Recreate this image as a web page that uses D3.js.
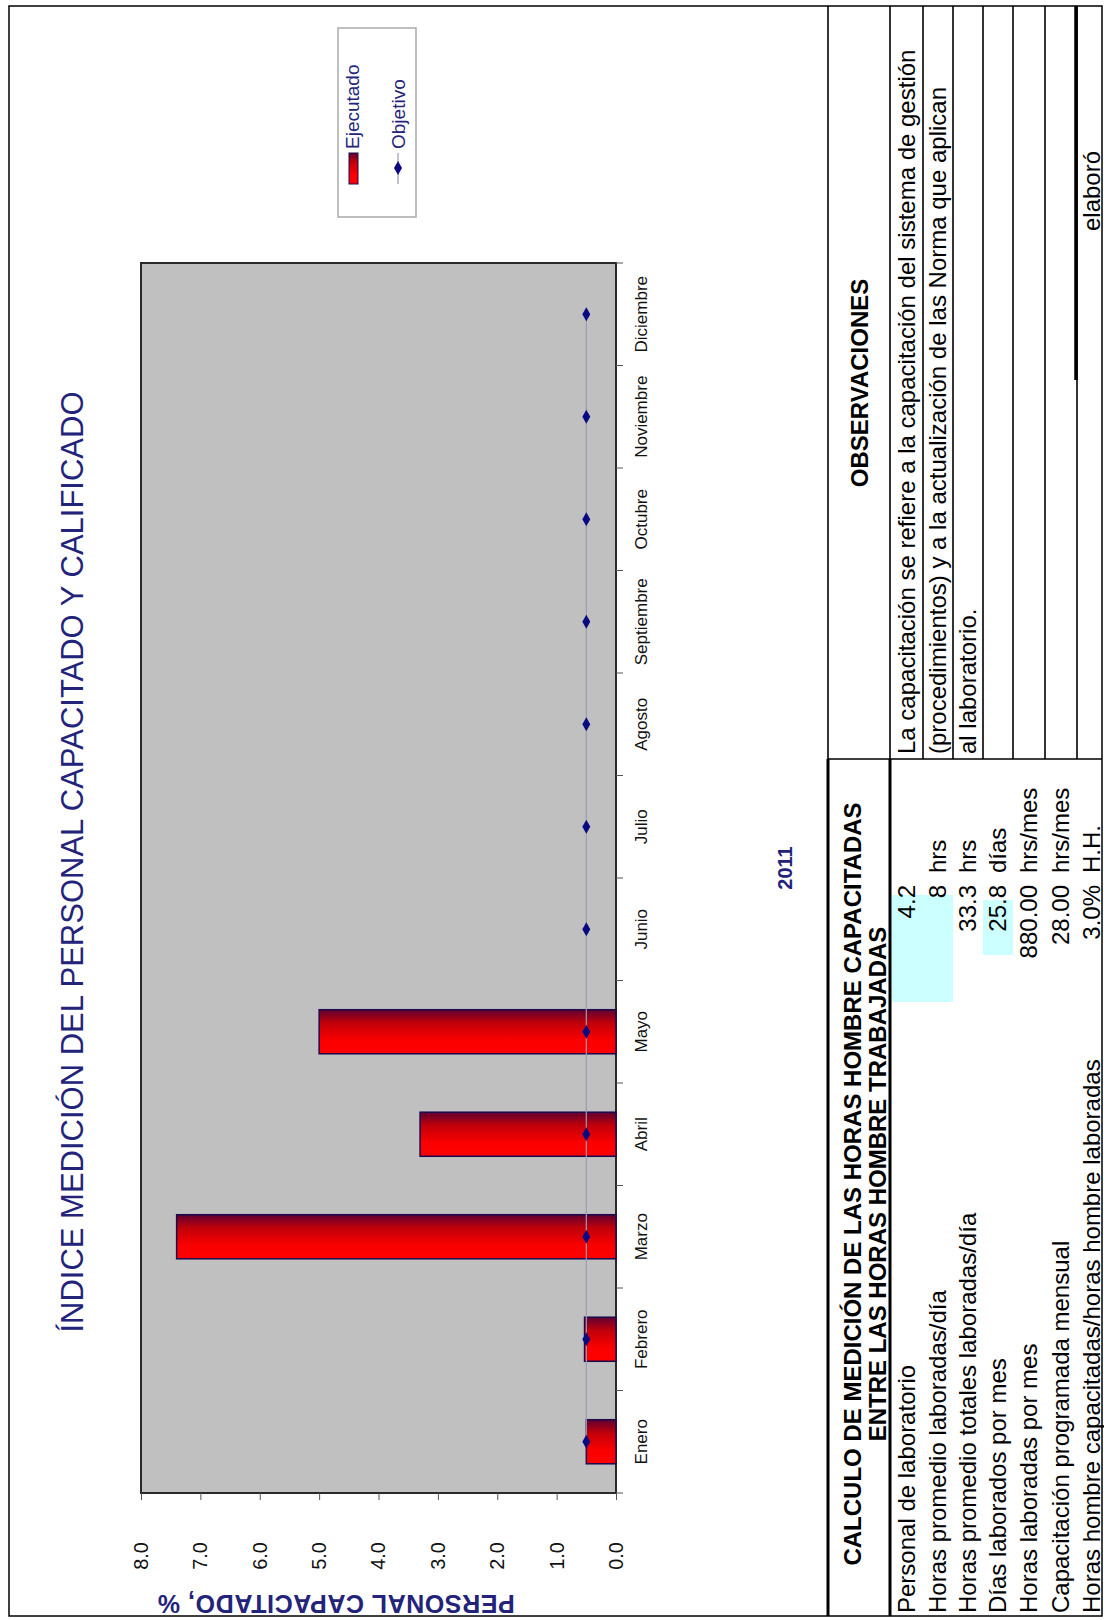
<!DOCTYPE html>
<html>
<head>
<meta charset="utf-8">
<script src="https://cdn.jsdelivr.net/npm/d3@7"></script>
<style>
  body { margin: 0; background: #fff; }
  text { font-family: "Liberation Sans", Arial, sans-serif; }
</style>
</head>
<body>
<script>
// chart data
const months = ['Enero', 'Febrero', 'Marzo', 'Abril', 'Mayo', 'Junio', 'Julio', 'Agosto', 'Septiembre', 'Octubre', 'Noviembre', 'Diciembre'];
const ejecutado = [0.5, 0.53, 7.4, 3.3, 5.0, 0, 0, 0, 0, 0, 0, 0];
const objetivo = [0.5, 0.5, 0.5, 0.5, 0.5, 0.5, 0.5, 0.5, 0.5, 0.5, 0.5, 0.5];
const valueTicks = [0, 1, 2, 3, 4, 5, 6, 7, 8];

// table data
const calcLabels = ['Personal de laboratorio', 'Horas promedio laboradas/día', 'Horas promedio totales laboradas/día', 'Días laborados por mes', 'Horas laboradas por mes', 'Capacitación programada mensual', 'Horas hombre capacitadas/horas hombre laboradas'];
const calcValues = ['4.2', '8', '33.3', '25.8', '880.00', '28.00', '3.0%'];
const calcUnits = ['', 'hrs', 'hrs', 'días', 'hrs/mes', 'hrs/mes', 'H.H.'];
const obsLines = ['La capacitación se refiere a la capacitación del sistema de gestión', '(procedimientos) y a la actualización de las Norma que aplican', 'al laboratorio.'];

const W = 1104, H = 1620;
const navy = '#23237a';

const svg = d3.select('body').append('svg')
    .attr('width', W)
    .attr('height', H);

svg.append('rect').attr('width', W).attr('height', H).attr('fill', '#fff');

const defs = svg.append('defs');
const grad = defs.append('linearGradient')
    .attr('id', 'barGrad')
    .attr('x1', 0).attr('y1', 0).attr('x2', 1).attr('y2', 0);
grad.append('stop').attr('offset', '0%').attr('stop-color', '#ff0000');
grad.append('stop').attr('offset', '30%').attr('stop-color', '#fb0000');
grad.append('stop').attr('offset', '70%').attr('stop-color', '#c0000a');
grad.append('stop').attr('offset', '100%').attr('stop-color', '#5e0030');

// the whole sheet is printed turned a quarter turn, so draw it landscape and rotate
const g = svg.append('g').attr('transform', `translate(0,${H}) rotate(-90)`);

// outer frame
g.append('rect')
    .attr('x', 4).attr('y', 9)
    .attr('width', 1610).attr('height', 1093)
    .attr('fill', 'none').attr('stroke', '#000').attr('stroke-width', 1.5);

// scales
const plot = {left: 127, right: 1357, top: 141, bottom: 616};
const x = d3.scaleBand()
    .domain(months)
    .range([plot.left, plot.right])
    .paddingInner(0.57)
    .paddingOuter(0.285);
const y = d3.scaleLinear()
    .domain([0, 8])
    .range([plot.bottom, plot.top]);

// plot area
g.append('rect')
    .attr('x', plot.left).attr('y', plot.top)
    .attr('width', plot.right - plot.left).attr('height', plot.bottom - plot.top)
    .attr('fill', '#c0c0c0').attr('stroke', '#2a2a2a').attr('stroke-width', 2);

// bars
g.append('g')
    .selectAll('rect')
    .data(months.map((m, i) => ({m: m, v: ejecutado[i]})).filter(d => d.v > 0))
    .join('rect')
    .attr('x', d => x(d.m))
    .attr('y', d => y(d.v))
    .attr('width', x.bandwidth())
    .attr('height', d => y(0) - y(d.v))
    .attr('fill', 'url(#barGrad)')
    .attr('stroke', '#1c0a4e')
    .attr('stroke-width', 1.5);

// objective line + markers
const objData = months.map((m, i) => ({m: m, v: objetivo[i]}));
g.append('path')
    .datum(objData)
    .attr('fill', 'none')
    .attr('stroke', '#9c9cb4')
    .attr('stroke-width', 1.2)
    .attr('d', d3.line().x(d => x(d.m) + x.bandwidth() / 2).y(d => y(d.v)));

g.append('g')
    .selectAll('path')
    .data(objData)
    .join('path')
    .attr('d', d3.symbol(d3.symbolDiamond, 55))
    .attr('transform', d => `translate(${x(d.m) + x.bandwidth() / 2},${y(d.v)}) rotate(90)`)
    .attr('fill', '#0a0a80');

// value axis
const yAx = g.append('g')
    .attr('transform', `translate(${plot.left},0)`)
    .call(d3.axisLeft(y).tickValues(valueTicks).tickSize(7).tickPadding(42).tickFormat(d3.format('.1f')));
yAx.select('.domain').remove();
yAx.selectAll('line').attr('stroke', '#555');
yAx.selectAll('text').attr('font-size', 20).attr('fill', '#111');

// category axis
const xAx = g.append('g')
    .attr('transform', `translate(0,${plot.bottom})`)
    .call(d3.axisBottom(x).tickSize(0).tickPadding(19));
xAx.select('.domain').remove();
xAx.selectAll('text').attr('font-size', 17).attr('fill', '#111');

// category boundary ticks
g.append('g')
    .selectAll('line')
    .data(d3.range(months.length + 1))
    .join('line')
    .attr('x1', i => plot.left + i * x.step())
    .attr('x2', i => plot.left + i * x.step())
    .attr('y1', plot.bottom)
    .attr('y2', plot.bottom + 7)
    .attr('stroke', '#555');

// titles
g.append('text')
    .attr('x', 758).attr('y', 83)
    .attr('text-anchor', 'middle')
    .attr('font-size', 31)
    .attr('fill', navy)
    .text('ÍNDICE MEDICIÓN DEL PERSONAL CAPACITADO Y CALIFICADO');

g.append('text')
    .attr('transform', 'translate(25,336) rotate(-90)')
    .attr('text-anchor', 'middle')
    .attr('font-size', 25)
    .attr('letter-spacing', 0.6)
    .attr('font-weight', 'bold')
    .attr('fill', navy)
    .text('PERSONAL CAPACITADO, %');

g.append('text')
    .attr('x', 752).attr('y', 792)
    .attr('text-anchor', 'middle')
    .attr('font-size', 20)
    .attr('font-weight', 'bold')
    .attr('fill', navy)
    .text('2011');

// legend
const lg = g.append('g');
lg.append('rect')
    .attr('x', 1403).attr('y', 338)
    .attr('width', 189).attr('height', 78)
    .attr('fill', '#fff').attr('stroke', '#aaa').attr('stroke-width', 1.5);
lg.append('rect')
    .attr('x', 1436).attr('y', 349)
    .attr('width', 31).attr('height', 9)
    .attr('fill', 'url(#barGrad)').attr('stroke', '#1c0a4e');
lg.append('text')
    .attr('x', 1471).attr('y', 359)
    .attr('font-size', 19).attr('fill', navy)
    .text('Ejecutado');
lg.append('line')
    .attr('x1', 1436).attr('x2', 1467).attr('y1', 398).attr('y2', 398)
    .attr('stroke', '#9c9cb4').attr('stroke-width', 1.2);
lg.append('path')
    .attr('d', d3.symbol(d3.symbolDiamond, 55))
    .attr('transform', 'translate(1452,398) rotate(90)')
    .attr('fill', '#0a0a80');
lg.append('text')
    .attr('x', 1471).attr('y', 405)
    .attr('font-size', 19).attr('fill', navy)
    .text('Objetivo');

// ---- tables ----
const rowLines = [828, 890, 923, 953, 983, 1013, 1045, 1077];
const rowMid = [907, 938, 968, 998, 1029, 1061, 1092];
const split = 861;

// observations grid
g.append('g')
    .selectAll('line')
    .data(rowLines)
    .join('line')
    .attr('x1', split).attr('x2', 1614)
    .attr('y1', d => d).attr('y2', d => d)
    .attr('stroke', '#000').attr('stroke-width', 1.6);
g.append('line')
    .attr('x1', split).attr('x2', split).attr('y1', 828).attr('y2', 1102)
    .attr('stroke', '#000').attr('stroke-width', 1.6);
// signature line
g.append('line')
    .attr('x1', 1240).attr('x2', 1614).attr('y1', 1076).attr('y2', 1076)
    .attr('stroke', '#000').attr('stroke-width', 3.5);

g.append('text')
    .attr('x', 1237).attr('y', 868)
    .attr('text-anchor', 'middle')
    .attr('font-size', 24).attr('font-weight', 'bold')
    .text('OBSERVACIONES');

g.append('g')
    .selectAll('text')
    .data(obsLines)
    .join('text')
    .attr('x', 866)
    .attr('y', (d, i) => rowMid[i] + 8)
    .attr('font-size', 24)
    .text(d => d);

g.append('text')
    .attr('x', 1429).attr('y', 1100)
    .attr('text-anchor', 'middle')
    .attr('font-size', 24)
    .text('elaboró');

// calculation table
g.append('rect').attr('x', 618).attr('y', 890).attr('width', 107).attr('height', 63).attr('fill', '#ccffff');
g.append('rect').attr('x', 665).attr('y', 983).attr('width', 55).attr('height', 30).attr('fill', '#ccffff');

g.append('line')
    .attr('x1', 4).attr('x2', split).attr('y1', 828).attr('y2', 828)
    .attr('stroke', '#000').attr('stroke-width', 3);
g.append('line')
    .attr('x1', 4).attr('x2', split).attr('y1', 890).attr('y2', 890)
    .attr('stroke', '#000').attr('stroke-width', 3);

g.append('text')
    .attr('x', 436).attr('y', 861)
    .attr('text-anchor', 'middle')
    .attr('font-size', 24).attr('font-weight', 'bold')
    .text('CALCULO DE MEDICIÓN DE LAS HORAS HOMBRE CAPACITADAS');
g.append('text')
    .attr('x', 436).attr('y', 886)
    .attr('text-anchor', 'middle')
    .attr('font-size', 24).attr('font-weight', 'bold')
    .text('ENTRE LAS HORAS HOMBRE TRABAJADAS');

const rows = g.append('g')
    .selectAll('g')
    .data(calcLabels.map((l, i) => ({l: l, v: calcValues[i], u: calcUnits[i], y: rowMid[i] + 8})))
    .join('g');
rows.append('text')
    .attr('x', 7).attr('y', d => d.y)
    .attr('font-size', 24)
    .text(d => d.l);
rows.append('text')
    .attr('x', 735).attr('y', d => d.y)
    .attr('text-anchor', 'end')
    .attr('font-size', 24)
    .text(d => d.v);
rows.append('text')
    .attr('x', 747).attr('y', d => d.y)
    .attr('font-size', 24)
    .text(d => d.u);
</script>
</body>
</html>
